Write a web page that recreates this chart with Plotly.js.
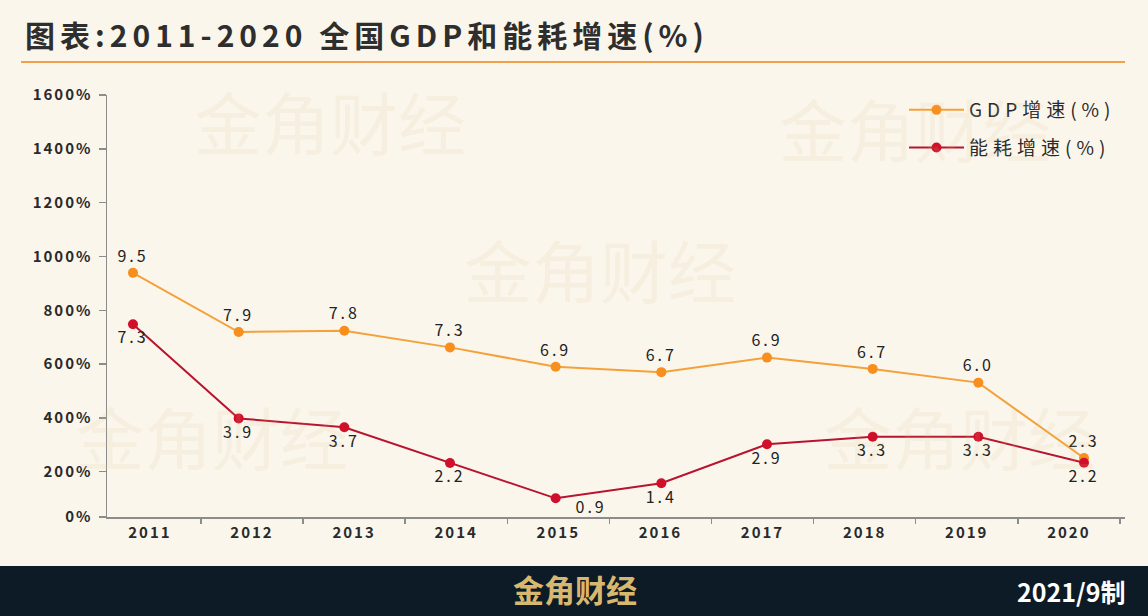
<!DOCTYPE html>
<html>
<head>
<meta charset="utf-8">
<script src="https://cdn.plot.ly/plotly-3.0.1.min.js"></script>
<style>
  html, body { margin: 0; padding: 0; background: #fbf6ec; }
  #chart { width: 1148px; height: 616px; }
  .gtitle { letter-spacing: 5px; }
  .xtick text, .x2tick text { letter-spacing: 2px; }
  .ytick text { letter-spacing: 2px; }
  .legendtext { letter-spacing: 5px; }
  .textpoint text { letter-spacing: 3px; }
  .annotation-text.lbl { letter-spacing: 3px; }
</style>
</head>
<body>
<div id="chart"></div>
<script>
// ---- data ----
const years = ['2011','2012','2013','2014','2015','2016','2017','2018','2019','2020'];
const gdpValues = [939, 719, 724, 662, 590, 570, 624, 582, 531, 251];      // plotted position, %
const energyValues = [748, 398, 365, 232, 101, 157, 302, 330, 330, 233];   // plotted position, %
const gdpLabels = ['9.5','7.9','7.8','7.3','6.9','6.7','6.9','6.7','6.0','2.3'];
const energyLabels = ['7.3','3.9','3.7','2.2','0.9','1.4','2.9','3.3','3.3','2.2'];
const yTickValues = [0, 200, 400, 600, 800, 1000, 1200, 1400, 1600];
const yTickLabels = ['0%','200%','400%','600%','800%','1000%','1200%','1400%','1600%'];
const seriesNames = ['GDP增速(%)', '能耗增速(%)'];
const titleText = '图表:2011-2020 全国GDP和能耗增速(%)';
const brandText = '金角财经';
const dateText = '2021/9制';

// ---- layout helpers ----
const W = 1148, H = 616;
const mL = 107, mR = 23, mT = 95, mB = 99;
const plotW = W - mL - mR, plotH = H - mT - mB;
const px2x = p => (p - mL) / plotW;
const px2y = p => (H - mB - p) / plotH;
const yMin = 31.6;  // axis line sits slightly above the true zero in the original
const idx = years.map((_, i) => i);
const yTickPos = yTickValues.map(v => Math.max(v, yMin));

const CJK = '"Noto Sans CJK SC", "Noto Sans", sans-serif';
const bg = '#fbf6ec';

// the 2015 energy label sits below-right of its point in the original: drawn as an annotation
const offsetIdx = 4;
const energyText = energyLabels.map((t, i) => i === offsetIdx ? '' : t);

const traces = [
  {
    x: idx, y: gdpValues, name: seriesNames[0], legendgroup: 'g',
    mode: 'lines+markers+text', text: gdpLabels, textposition: 'top center',
    textfont: {family: CJK, size: 16, color: '#222'},
    line: {color: '#f4a13a', width: 2},
    marker: {color: '#f78f1e', size: 10},
    hoverinfo: 'skip', cliponaxis: false
  },
  {
    x: idx, y: energyValues, name: seriesNames[1], legendgroup: 'e',
    mode: 'lines+markers+text', text: energyText, textposition: 'bottom center',
    textfont: {family: CJK, size: 16, color: '#222'},
    line: {color: '#b8142f', width: 2},
    marker: {color: '#d0102b', size: 10},
    hoverinfo: 'skip', cliponaxis: false
  },
  {
    x: idx, y: idx.map(() => null), xaxis: 'x2', mode: 'markers',
    showlegend: false, hoverinfo: 'skip', marker: {opacity: 0}
  }
];

const watermarks = [[330, 120], [915, 128], [600, 268], [212, 435], [960, 435]].map(p => ({
  text: brandText, xref: 'paper', yref: 'paper', x: px2x(p[0]), y: px2y(p[1]),
  xanchor: 'center', yanchor: 'middle',
  showarrow: false, font: {family: CJK, size: 68, color: 'rgba(214,190,140,0.13)'}
}));

const offsetLabel = {
  text: energyLabels[offsetIdx], xref: 'x', yref: 'y',
  x: idx[offsetIdx], y: energyValues[offsetIdx],
  xanchor: 'center', yanchor: 'middle', xshift: 35, yshift: -8,
  showarrow: false, font: {family: CJK, size: 16, color: '#222'}
};

const layout = {
  width: W, height: H,
  paper_bgcolor: bg, plot_bgcolor: bg,
  margin: {l: mL, r: mR, t: mT, b: mB},
  showlegend: true,
  title: {
    text: titleText, xref: 'container', yref: 'container',
    x: 25 / W, xanchor: 'left', y: 1 - 36 / H, yanchor: 'middle',
    font: {family: CJK, size: 30, color: '#2e2e2e', weight: 'bold'}
  },
  xaxis: {
    type: 'linear', range: [-0.246, 9.388], showticklabels: false,
    showgrid: false, zeroline: false, showline: false, ticks: '', fixedrange: true
  },
  xaxis2: {
    type: 'linear', overlaying: 'x', anchor: 'y', side: 'bottom',
    range: [-0.42, 9.55], tickmode: 'array', tickvals: idx, ticktext: years,
    ticks: '', showgrid: false, zeroline: false,
    showline: true, linecolor: '#8c8c8c', linewidth: 1.5,
    minor: {tickmode: 'linear', tick0: 0.5, dtick: 1, ticks: 'outside', ticklen: 5, tickcolor: '#8c8c8c', tickwidth: 1.5, showgrid: false},
    tickfont: {family: CJK, size: 15, color: '#2a2a2a', weight: 'bold'},
    ticklabelstandoff: 1
  },
  yaxis: {
    range: [yMin, 1600], tickmode: 'array', tickvals: yTickPos, ticktext: yTickLabels,
    ticks: 'outside', ticklen: 7, tickcolor: '#8c8c8c', tickwidth: 1.5,
    showline: true, linecolor: '#8c8c8c', linewidth: 1.5,
    showgrid: false, zeroline: false,
    tickfont: {family: CJK, size: 15, color: '#2a2a2a', weight: 'bold'},
    ticklabelstandoff: 3
  },
  legend: {
    x: px2x(904), y: px2y(91), xanchor: 'left', yanchor: 'top',
    bgcolor: 'rgba(0,0,0,0)', borderwidth: 0,
    font: {family: CJK, size: 19, color: '#2a2a2a'},
    itemwidth: 55,
    tracegroupgap: 10
  },
  shapes: [
    {type: 'line', xref: 'paper', yref: 'paper', x0: px2x(21), x1: px2x(1125), y0: px2y(62), y1: px2y(62),
     line: {color: '#f2a04c', width: 2}},
    {type: 'rect', xref: 'paper', yref: 'paper', x0: px2x(-5), x1: px2x(1155), y0: px2y(566), y1: px2y(620),
     fillcolor: '#0c1b26', line: {width: 0}}
  ],
  annotations: watermarks.concat([
    offsetLabel,
    {text: brandText, xref: 'paper', yref: 'paper', x: px2x(575), y: px2y(588),
     xanchor: 'center', yanchor: 'middle', showarrow: false,
     font: {family: CJK, size: 31, color: '#d8b86e', weight: 'bold'}},
    {text: dateText, xref: 'paper', yref: 'paper', x: px2x(1127), xanchor: 'right', y: px2y(591), yanchor: 'middle',
     showarrow: false, font: {family: CJK, size: 25, color: '#ffffff', weight: 'bold'}}
  ])
};

Plotly.newPlot('chart', traces, layout, {staticPlot: true, displayModeBar: false}).then(() => {
  // give the offset data label the same tracking as the other point labels
  document.querySelectorAll('.annotation-text').forEach(el => {
    if (el.textContent === energyLabels[offsetIdx]) el.style.letterSpacing = '3px';
  });
});
</script>
</body>
</html>
